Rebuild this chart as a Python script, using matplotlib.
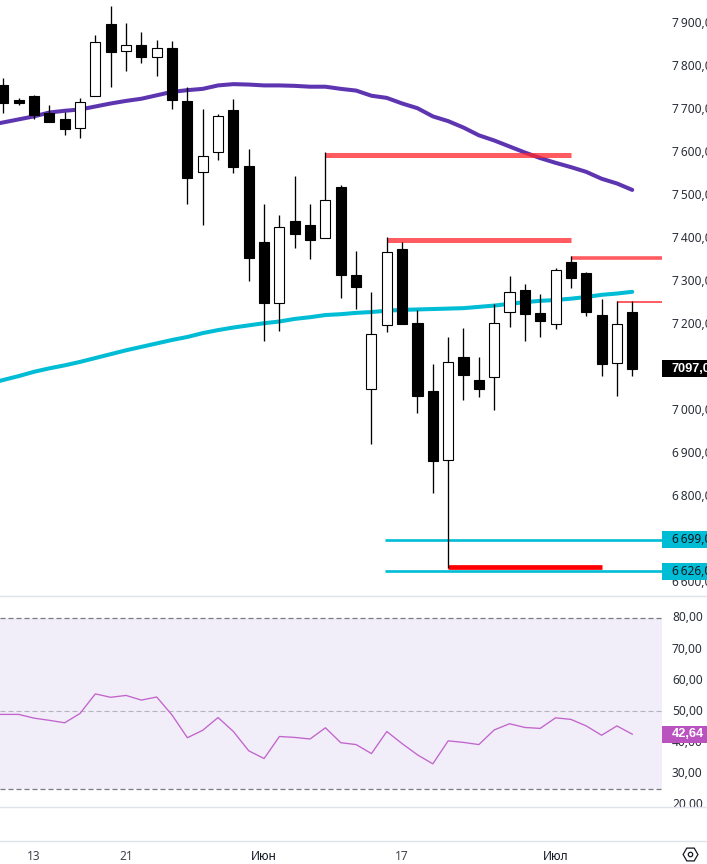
#!/usr/bin/env python

import matplotlib

matplotlib.use("Agg")
import matplotlib.pyplot as plt
from matplotlib.lines import Line2D
from matplotlib.patches import Circle, Rectangle, RegularPolygon
from matplotlib.transforms import Bbox, ScaledTranslation, TransformedBbox

WIDTH, HEIGHT = 707, 864
PANE_RIGHT = 662

opens = [7757, 7722, 7731, 7692, 7678, 7656, 7731, 7899, 7835, 7850, 7821, 7843, 7720, 7554,
         7600, 7699, 7569, 7392, 7249, 7441, 7431, 7400, 7520, 7315, 7049, 7198, 7376, 7203,
         7045, 6884, 7124, 7071, 7077, 7228, 7280, 7227, 7200, 7345, 7320, 7222, 7110, 7229]
highs = [7773, 7726, 7734, 7710, 7694, 7726, 7873, 7941, 7901, 7880, 7862, 7859, 7752, 7701,
         7690, 7724, 7608, 7480, 7455, 7545, 7480, 7600, 7524, 7371, 7276, 7403, 7391, 7234,
         7108, 7171, 7192, 7124, 7248, 7313, 7294, 7271, 7331, 7359, 7322, 7259, 7255, 7255]
lows = [7693, 7710, 7679, 7672, 7641, 7634, 7731, 7753, 7790, 7807, 7779, 7702, 7481, 7432,
        7583, 7553, 7302, 7162, 7186, 7379, 7353, 7400, 7262, 7237, 6923, 7183, 7202, 6995,
        6807, 6633, 7025, 7032, 7002, 7195, 7162, 7172, 7190, 7286, 7220, 7081, 7034, 7081]
closes = [7714, 7714, 7688, 7672, 7655, 7717, 7856, 7834, 7849, 7821, 7842, 7721, 7541, 7591,
          7684, 7567, 7355, 7251, 7426, 7411, 7397, 7489, 7314, 7288, 7177, 7368, 7202, 7034,
          6883, 7112, 7083, 7051, 7203, 7275, 7225, 7209, 7326, 7309, 7230, 7109, 7200, 7097]

# The indicators start one candle earlier, off the left edge of the pane
ma_slow = [7062, 7071, 7080, 7090, 7098, 7105, 7113, 7122, 7131, 7140, 7148, 7156, 7164, 7171, 7180,
           7187, 7193, 7198, 7203, 7207, 7213, 7217, 7222, 7224, 7227, 7229, 7232, 7234, 7235,
           7236, 7237, 7238, 7241, 7244, 7248, 7252, 7255, 7257, 7260, 7264, 7269, 7272, 7276]
ma_fast = [7663, 7670, 7677, 7684, 7693, 7697, 7700, 7707, 7714, 7720, 7725, 7733, 7741, 7745, 7748,
           7756, 7759, 7758, 7756, 7756, 7755, 7753, 7753, 7748, 7744, 7732, 7727, 7714, 7703,
           7684, 7673, 7658, 7640, 7628, 7614, 7600, 7587, 7576, 7566, 7555, 7539, 7528, 7513]
rsi = [49.0, 49.0, 49.0, 47.8, 47.1, 46.3, 49.3, 55.6, 54.5, 55.1, 53.6, 54.6, 48.8, 41.5, 43.9,
       48.0, 43.5, 37.3, 34.8, 41.9, 41.6, 41.1, 44.7, 39.9, 39.3, 36.4, 43.5, 39.6, 36.0,
       33.1, 40.5, 40.0, 39.3, 44.0, 46.0, 44.8, 44.5, 47.9, 47.4, 45.3, 42.3, 45.3, 42.64]

price_ticks = [7900, 7800, 7700, 7600, 7500, 7400, 7300, 7200, 7100, 7000, 6900, 6800, 6700, 6600]
price_labels = ["7\u2009900,00", "7\u2009800,00", "7\u2009700,00", "7\u2009600,00", "7\u2009500,00",
                "7\u2009400,00", "7\u2009300,00", "7\u2009200,00", "7\u2009100,00", "7\u2009000,00",
                "6\u2009900,00", "6\u2009800,00", "6\u2009700,00", "6\u2009600,00"]
rsi_ticks = [80, 70, 60, 50, 40, 30, 20]
rsi_labels = ["80,00", "70,00", "60,00", "50,00", "40,00", "30,00", "20,00"]
date_ticks = [2, 8, 17, 26, 36]
date_labels = ["13", "21", "Июн", "17", "Июл"]

# resistance / support levels: price, first candle, last candle (None runs to the scale)
red_levels = [(7594, 21, 37.03, 3.6), (7396, 25, 37.03, 3.6), (7355, 37, None, 2.6), (7253, 40, None, 1.4)]
low_level = (6636, 29, 39.02)
cyan_levels = [(6699, 24.9), (6626, 24.9)]

plt.rcParams["font.family"] = ["Noto Sans", "DejaVu Sans"]
plt.rcParams["font.size"] = 8.6

BULL_COLOR = "white"
BEAR_COLOR = "black"
CYAN = "#00bcd4"
PURPLE = "#5e35b1"
RED = "#ff242c"
MAGENTA = "#ba53bf"
TEXT = "#2a2e39"
GRID = "#e0e3eb"

fig = plt.figure(figsize=(WIDTH / 100, HEIGHT / 100), dpi=100)


def pane(top, bottom):
    return fig.add_axes([0, 1 - bottom / HEIGHT, PANE_RIGHT / WIDTH, (bottom - top) / HEIGHT])


def style_pane(ax, ticks, labels):
    ax.set_xlim(-0.215, 42.94)
    ax.set_xticks([])
    for spine in ax.spines.values():
        spine.set_visible(False)
    ax.yaxis.tick_right()
    ax.set_yticks(ticks)
    ax.set_yticklabels(labels, color=TEXT)
    ax.tick_params(axis="y", length=0, pad=7.2)
    # scale labels sit slightly above their level
    lift = ScaledTranslation(0, 1.5 / 100, fig.dpi_scale_trans)
    for label in ax.get_yticklabels():
        label.set_transform(label.get_transform() + lift)


def badge(ax, value, label, color, text_color, px_per_unit, bold=False):
    # value tag sitting on the price scale
    box_h = 17 / px_per_unit
    ax.add_patch(Rectangle((1.0, value - box_h / 2), 0.07, box_h, transform=ax.get_yaxis_transform(),
                           facecolor=color, edgecolor="none", clip_on=False, zorder=5))
    text_style = {"family": "Liberation Sans", "weight": "bold", "size": 9.2} if bold else {}
    ax.text(1 + 10 / PANE_RIGHT, value, label, transform=ax.get_yaxis_transform(), color=text_color,
            va="center", ha="left", clip_on=False, zorder=6, **text_style)


# Price pane
ax = pane(0, 596)
ax.set_ylim(6568.6, 7954.65)
style_pane(ax, price_ticks, price_labels)

x = list(range(len(closes)))
x_ind = list(range(-1, len(closes)))
ax.plot(x_ind, ma_slow, color=CYAN, lw=2.9, solid_capstyle="round", zorder=1)
ax.plot(x_ind, ma_fast, color=PURPLE, lw=2.9, solid_capstyle="round", zorder=1)

xmax = ax.get_xlim()[1]
for price, start, end, lw in red_levels:
    ax.plot([start, end if end else xmax], [price, price], color=RED, alpha=0.75, lw=lw,
            solid_capstyle="butt", zorder=2)
ax.plot([low_level[1], low_level[2]], [low_level[0], low_level[0]], color="#ff0000", lw=3.4,
        solid_capstyle="butt", zorder=2)
for price, start in cyan_levels:
    ax.plot([start, xmax], [price, price], color=CYAN, lw=1.9, solid_capstyle="butt", zorder=2)

# Candles: wicks first so the bodies cover them
ax.vlines(x, lows, highs, color="black", lw=0.95, zorder=3)
bottoms = [min(o, c) for o, c in zip(opens, closes)]
heights = [abs(c - o) for o, c in zip(opens, closes)]
colors = [BULL_COLOR if c > o else BEAR_COLOR for o, c in zip(opens, closes)]
ax.bar(x, heights, bottom=bottoms, width=0.655, color=colors, edgecolor="black", linewidth=0.8, zorder=4)

badge(ax, closes[-1], "7097,00", "black", "white", 0.43, bold=True)
badge(ax, cyan_levels[0][0], "6\u2009699,00", CYAN, "#131722", 0.43)
badge(ax, cyan_levels[1][0], "6\u2009626,00", CYAN, "#131722", 0.43)

# RSI pane
ax_rsi = pane(596, 807)
ax_rsi.set_ylim(19.23, 87.07)
style_pane(ax_rsi, rsi_ticks, rsi_labels)
ax_rsi.axhspan(25, 80, color="#f1edf9", lw=0, zorder=0)
ax_rsi.axhline(80, color="#787b86", lw=0.9, dashes=(4, 2.4), zorder=1)
ax_rsi.axhline(25, color="#787b86", lw=0.9, dashes=(4, 2.4), zorder=1)
ax_rsi.axhline(50, color="#b2b5be", lw=0.8, dashes=(4.5, 2.7), zorder=1)
ax_rsi.plot(x_ind, rsi, color="#c264cc", lw=0.95, zorder=2)
badge(ax_rsi, rsi[-1], "42,64", MAGENTA, "white", 3.11, bold=True)

# the lowest scale label gets cut off at the pane border
scale_box = TransformedBbox(Bbox([[1.0, 0.0], [1.1, 1.0]]), ax_rsi.transAxes)
for label in ax_rsi.get_yticklabels():
    label.set_clip_box(scale_box)
    label.set_clip_on(True)

# Date strip
ax_time = pane(807, 841)
ax_time.set_xlim(ax.get_xlim())
ax_time.set_yticks([])
for spine in ax_time.spines.values():
    spine.set_visible(False)
ax_time.set_xticks(date_ticks)
ax_time.set_xticklabels(date_labels, color="#40444f")
ax_time.tick_params(axis="x", length=0, pad=6.2)
for label in ax_time.get_xticklabels():
    if label.get_text() in ("Июн", "Июл"):
        label.set_color("#131722")

# Pane separators
for y in (596, 807, 841):
    fig.add_artist(Line2D([0, 1], [1 - y / HEIGHT] * 2, color=GRID, lw=1.0))

# Settings icon in the corner
icon_center = (690.5 / 100, (HEIGHT - 854.5) / 100)
fig.add_artist(RegularPolygon(icon_center, 6, radius=0.074, orientation=0.5236, facecolor="none",
                              edgecolor="#131722", lw=0.9, transform=fig.dpi_scale_trans))
fig.add_artist(Circle(icon_center, 0.022, facecolor="none", edgecolor="#131722", lw=0.9,
                      transform=fig.dpi_scale_trans))

fig.savefig("out.png", dpi=100)
